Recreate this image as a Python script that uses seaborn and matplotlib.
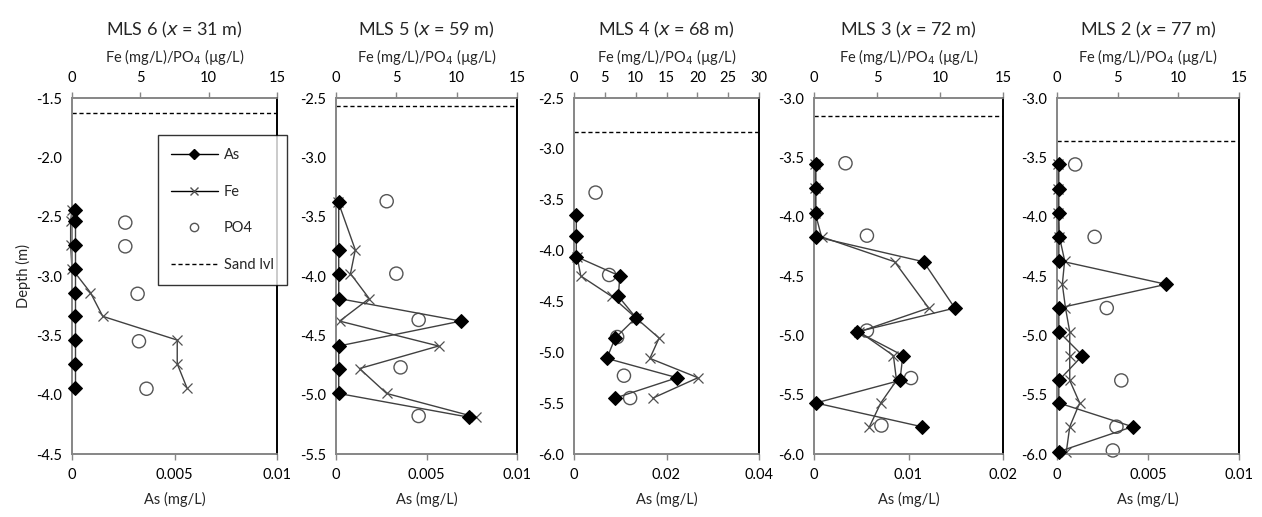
import matplotlib
matplotlib.use("Agg")
import matplotlib.pyplot as plt
from matplotlib.lines import Line2D
import seaborn as sns
import pandas as pd

sns.set_theme(style="white")
plt.rcParams['font.family'] = ['Lato', 'DejaVu Sans']

# ---------------- data ----------------
titles = ["MLS 6", "MLS 5", "MLS 4", "MLS 3", "MLS 2"]
x_pos = ["31", "59", "68", "72", "77"]

# MLS 6
d6 = [-2.44, -2.54, -2.74, -2.94, -3.14, -3.34, -3.54, -3.74, -3.94]
as6 = [0.00015, 0.00015, 0.00015, 0.00015, 0.00015, 0.00015, 0.00015, 0.00015, 0.00015]
fe6 = [0.0, -0.1, -0.1, 0.0, 1.35, 2.25, 7.7, 7.7, 8.4]
pd6 = [-2.55, -2.75, -3.15, -3.55, -3.95]
po6 = [3.9, 3.9, 4.8, 4.9, 5.45]
sand6 = -1.63

# MLS 5
d5 = [-3.38, -3.78, -3.98, -4.19, -4.38, -4.59, -4.78, -4.99, -5.19]
as5 = [0.00015, 0.00015, 0.00015, 0.00015, 0.0069, 0.00015, 0.00015, 0.00015, 0.00735]
fe5 = [0.2, 1.6, 1.2, 2.75, 0.3, 8.5, 1.95, 4.2, 11.6]
pd5 = [-3.37, -3.98, -4.37, -4.77, -5.18]
po5 = [4.2, 5.0, 6.85, 5.35, 6.85]
sand5 = -2.57

# MLS 4
d4 = [-3.65, -3.86, -4.06, -4.25, -4.45, -4.66, -4.86, -5.06, -5.25, -5.45]
as4 = [0.0005, 0.0005, 0.0005, 0.0099, 0.0096, 0.0134, 0.0089, 0.0071, 0.0223, 0.0089]
fe4_d = [-4.06, -4.25, -4.45, -4.66, -4.86, -5.06, -5.25, -5.45]
fe4 = [0.5, 1.1, 6.1, 10.0, 13.8, 12.3, 20.1, 12.8]
pd4 = [-3.43, -4.24, -4.85, -5.23, -5.45]
po4 = [3.5, 5.7, 7.0, 8.1, 9.1]
sand4 = -2.83

# MLS 3
d3 = [-3.56, -3.76, -3.97, -4.17, -4.38, -4.77, -4.97, -5.17, -5.38, -5.57, -5.77]
as3 = [0.0002, 0.0002, 0.0002, 0.0002, 0.0116, 0.0149, 0.0046, 0.0094, 0.0091, 0.0002, 0.0114]
fe3 = [0.1, 0.1, 0.1, 0.6, 6.4, 9.1, 3.6, 6.3, 6.55, 5.3, 4.4]
pd3 = [-3.55, -4.16, -4.96, -5.36, -5.76]
po3 = [2.5, 4.2, 4.2, 7.7, 5.35]
sand3 = -3.15

# MLS 2
d2 = [-3.56, -3.77, -3.97, -4.17, -4.37, -4.57, -4.77, -4.97, -5.17, -5.38, -5.57, -5.77, -5.98]
as2 = [0.0001, 0.0001, 0.0001, 0.0001, 0.0001, 0.006, 0.0001, 0.0001, 0.0014, 0.0001, 0.0001, 0.00415, 0.0001]
fe2 = [0.1, 0.1, 0.1, 0.2, 0.63, 0.44, 0.7, 1.05, 1.05, 1.05, 1.87, 1.05, 0.77]
pd2 = [-3.56, -4.17, -4.77, -5.38, -5.77, -5.97]
po2 = [1.5, 3.1, 4.1, 5.3, 4.9, 4.6]
sand2 = -3.36

panels = [
    dict(d=d6, a=as6, fd=d6, f=fe6, pd=pd6, p=po6, sand=sand6, ylim=(-4.5, -1.5), felim=15, aslim=0.01,
         fet=[0, 5, 10, 15], ast=[0, 0.005, 0.01], asl=["0", "0.005", "0.01"]),
    dict(d=d5, a=as5, fd=d5, f=fe5, pd=pd5, p=po5, sand=sand5, ylim=(-5.5, -2.5), felim=15, aslim=0.01,
         fet=[0, 5, 10, 15], ast=[0, 0.005, 0.01], asl=["0", "0.005", "0.01"]),
    dict(d=d4, a=as4, fd=fe4_d, f=fe4, pd=pd4, p=po4, sand=sand4, ylim=(-6.0, -2.5), felim=30, aslim=0.04,
         fet=[0, 5, 10, 15, 20, 25, 30], ast=[0, 0.02, 0.04], asl=["0", "0.02", "0.04"]),
    dict(d=d3, a=as3, fd=d3, f=fe3, pd=pd3, p=po3, sand=sand3, ylim=(-6.0, -3.0), felim=15, aslim=0.02,
         fet=[0, 5, 10, 15], ast=[0, 0.01, 0.02], asl=["0", "0.01", "0.02"]),
    dict(d=d2, a=as2, fd=d2, f=fe2, pd=pd2, p=po2, sand=sand2, ylim=(-6.0, -3.0), felim=15, aslim=0.01,
         fet=[0, 5, 10, 15], ast=[0, 0.005, 0.01], asl=["0", "0.005", "0.01"]),
]

# axes positions [left, bottom, width, height] in figure fraction
W, H = 1262, 517
boxes = [(72, 277), (336, 517), (574, 759), (814, 1003), (1057, 1239)]
top_px, bot_px = 98, 454

GRAY = "#868686"
LINE = "#404040"

fig = plt.figure(figsize=(12.62, 5.17), dpi=100)

for i, (pnl, (l, r)) in enumerate(zip(panels, boxes)):
    ax = fig.add_axes([l / W, (H - bot_px) / H, (r - l) / W, (bot_px - top_px) / H])
    ax2 = ax.twiny()
    # As axis drawn on top of the Fe/PO4 axis
    ax.set_zorder(ax2.get_zorder() + 1)
    ax.patch.set_visible(False)

    dfa = pd.DataFrame({"val": pnl["a"], "depth": pnl["d"]})
    dff = pd.DataFrame({"val": pnl["f"], "depth": pnl["fd"]})
    dfp = pd.DataFrame({"val": pnl["p"], "depth": pnl["pd"]})

    sns.lineplot(data=dfa, x="val", y="depth", sort=False, estimator=None, ax=ax,
                 color=LINE, lw=1.0, marker="D", markersize=7, markerfacecolor="black",
                 markeredgecolor="black", zorder=4, clip_on=False)
    sns.lineplot(data=dff, x="val", y="depth", sort=False, estimator=None, ax=ax2,
                 color=LINE, lw=1.0, marker="x", markersize=7, markeredgewidth=0.9,
                 markeredgecolor="#505050", zorder=3, clip_on=False)
    sns.scatterplot(data=dfp, x="val", y="depth", ax=ax2, marker="o", s=90,
                    facecolor="none", edgecolor="#555555", linewidth=1.0, zorder=2, clip_on=False)
    ax2.axhline(pnl["sand"], color="black", lw=1.0, ls=(0, (3, 2)), zorder=1)

    ax.set_ylim(*pnl["ylim"])
    ax.set_xlim(0, pnl["aslim"])
    ax2.set_xlim(0, pnl["felim"])
    ax2.set_ylim(*pnl["ylim"])

    yt = []
    v = pnl["ylim"][0]
    while v <= pnl["ylim"][1] + 1e-9:
        yt.append(round(v, 1))
        v += 0.5
    ax.set_yticks(yt)
    ax.set_yticklabels([f"{t:.1f}" for t in yt])
    ax.set_xticks(pnl["ast"])
    ax.set_xticklabels(pnl["asl"])
    ax2.set_xticks(pnl["fet"])
    ax2.set_xticklabels([str(t) for t in pnl["fet"]])

    for a in (ax, ax2):
        for s in ("left", "top", "bottom"):
            a.spines[s].set_color(GRAY)
            a.spines[s].set_linewidth(1.2)
        a.spines["right"].set_color("black")
        a.spines["right"].set_linewidth(1.2)
        a.tick_params(direction="out", length=4, width=1, color=GRAY, labelsize=10.5,
                      labelcolor="black", pad=3)
        a.grid(False)
    ax.tick_params(axis="x", pad=6)
    ax2.tick_params(axis="x", pad=5)

    ax.set_xlabel("As (mg/L)", fontsize=10.5, labelpad=7)
    ax.set_ylabel("Depth (m)" if i == 0 else "", fontsize=10.5)
    ax2.set_xlabel("Fe (mg/L)/PO$_4$ (µg/L)", fontsize=10.5, labelpad=7)
    ax2.set_title(f"{titles[i]} ($x$ = {x_pos[i]} m)", fontsize=13, pad=8)

    if i == 0:
        handles = [
            Line2D([], [], color="black", lw=1, marker="D", markersize=5, markerfacecolor="black"),
            Line2D([], [], color="black", lw=1, marker="x", markersize=6, markeredgecolor="#505050"),
            Line2D([], [], color="none", marker="o", markersize=6, markerfacecolor="none",
                   markeredgecolor="#555555"),
            Line2D([], [], color="black", lw=1, ls=(0, (3, 2))),
        ]
        leg = ax.legend(handles, ["As", "Fe", "PO4", "Sand lvl"], loc="upper left",
                        bbox_to_anchor=((158 - l) / (r - l), (bot_px - 135) / (bot_px - top_px)),
                        frameon=True, fancybox=False, edgecolor="black", fontsize=10.5,
                        labelspacing=1.55, handlelength=3.2, handletextpad=0.4,
                        borderpad=0.9, borderaxespad=0)
        leg.get_frame().set_linewidth(1.0)
        leg.get_frame().set_facecolor("white")

fig.savefig("out.png", dpi=100)
